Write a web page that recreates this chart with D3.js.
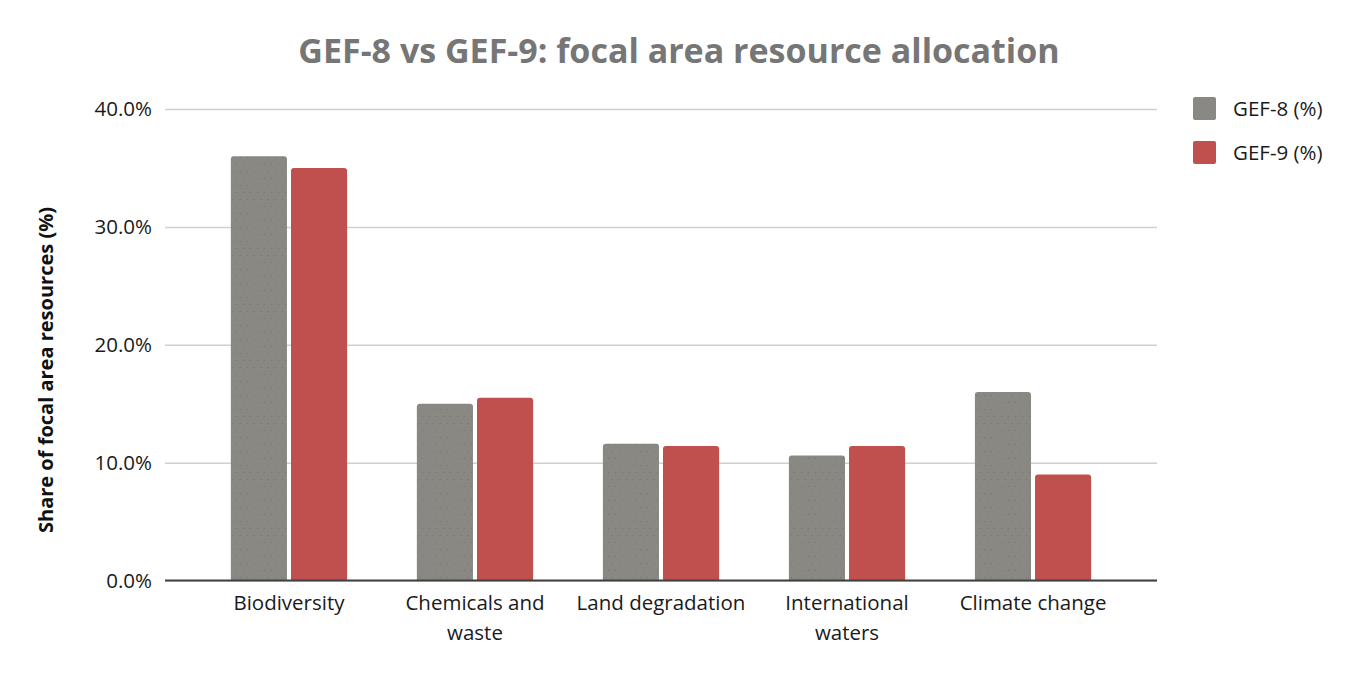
<!DOCTYPE html>
<html lang="en">

<head>
    <meta charset="UTF-8">
    <title>GEF-8 vs GEF-9</title>
    <script src="https://d3js.org/d3.v7.min.js"></script>
    <style>
        body {
            margin: 0;
            background: #fff;
        }

        text {
            font-family: "Open Sans", "Noto Sans", sans-serif;
        }
    </style>
</head>

<body>
    <svg width="1360" height="680"></svg>

    <script>
        const categories = ["Biodiversity", "Chemicals and waste", "Land degradation", "International waters", "Climate change"];
        const catLines = [["Biodiversity"], ["Chemicals and", "waste"], ["Land degradation"], ["International", "waters"], ["Climate change"]];
        const seriesNames = ["GEF-8 (%)", "GEF-9 (%)"];
        const gef8 = [36.0, 15.0, 11.6, 10.6, 16.0];
        const gef9 = [35.0, 15.5, 11.4, 11.4, 9.0];
        const yTicks = [0, 10, 20, 30, 40];

        const colors = ["#898883", "#c0504d"];

        const svg = d3.select("svg");

        const plotLeft = 165, plotRight = 1157, plotTop = 109, plotBottom = 580.5;

        const x = d3.scaleBand()
            .domain(categories)
            .range([plotLeft, plotRight])
            .paddingInner(0.375)
            .paddingOuter(0.354);

        const xs = d3.scaleBand()
            .domain(seriesNames)
            .range([0, x.bandwidth()])
            .paddingInner(4 / 60);

        const y = d3.scaleLinear().domain([0, 40]).range([plotBottom, plotTop]);

        // dotted texture for the grey bars
        const defs = svg.append("defs");
        const pat = defs.append("pattern")
            .attr("id", "dots")
            .attr("patternUnits", "userSpaceOnUse")
            .attr("width", 7).attr("height", 14);
        pat.append("rect").attr("width", 7).attr("height", 14).attr("fill", colors[0]);
        pat.append("rect").attr("x", 2).attr("y", 3).attr("width", 1).attr("height", 1).attr("fill", "#76756f");
        pat.append("rect").attr("x", 5).attr("y", 10).attr("width", 1).attr("height", 1).attr("fill", "#76756f");

        // title
        svg.append("text")
            .attr("x", 679)
            .attr("y", 63)
            .attr("text-anchor", "middle")
            .attr("font-size", "34px")
            .attr("font-weight", "bold")
            .attr("fill", "#767676")
            .text("GEF-8 vs GEF-9: focal area resource allocation");

        // gridlines + y labels
        const yAxis = svg.append("g")
            .attr("transform", `translate(${plotLeft},0)`)
            .call(d3.axisLeft(y).tickValues(yTicks).tickSize(-(plotRight - plotLeft)).tickPadding(13)
                .tickFormat(d => d.toFixed(1) + "%"));
        yAxis.select(".domain").remove();
        yAxis.selectAll(".tick line").attr("stroke", "#d0d0d0").attr("stroke-width", 1.5);
        yAxis.selectAll(".tick text")
            .attr("font-size", "20.5px")
            .attr("fill", "#1a1a1a")
            .style("font-family", "'Open Sans', sans-serif");

        // y title
        svg.append("text")
            .attr("transform", "translate(53,370) rotate(-90)")
            .attr("text-anchor", "middle")
            .attr("font-size", "20px")
            .attr("font-weight", "bold")
            .attr("fill", "#111")
            .text("Share of focal area resources (%)");

        // bars
        const rows = categories.map((c, i) => ({ cat: c, vals: [gef8[i], gef9[i]] }));
        const groups = svg.append("g").selectAll("g")
            .data(rows)
            .join("g")
            .attr("transform", d => `translate(${x(d.cat)},0)`);

        groups.selectAll("path")
            .data(d => d.vals.map((v, j) => ({ s: seriesNames[j], v: v, j: j })))
            .join("path")
            .attr("d", d => {
                const x0 = xs(d.s), w = xs.bandwidth(), y0 = y(d.v), r = 3;
                return `M${x0},${plotBottom}V${y0 + r}Q${x0},${y0} ${x0 + r},${y0}H${x0 + w - r}Q${x0 + w},${y0} ${x0 + w},${y0 + r}V${plotBottom}Z`;
            })
            .attr("fill", d => d.j === 0 ? "url(#dots)" : colors[1]);

        // baseline
        svg.append("line")
            .attr("x1", plotLeft).attr("x2", plotRight)
            .attr("y1", plotBottom).attr("y2", plotBottom)
            .attr("stroke", "#404040").attr("stroke-width", 2);

        // x labels
        const xl = svg.append("g").selectAll("text")
            .data(categories)
            .join("text")
            .attr("x", d => x(d) + x.bandwidth() / 2)
            .attr("y", 610)
            .attr("text-anchor", "middle")
            .attr("font-size", "20.5px")
            .attr("fill", "#1a1a1a");
        xl.selectAll("tspan")
            .data((d, i) => catLines[i])
            .join("tspan")
            .attr("x", function () { return this.parentNode.getAttribute("x"); })
            .attr("dy", (d, i) => i === 0 ? 0 : 30)
            .text(d => d);

        // legend
        const lg = svg.append("g").selectAll("g")
            .data(seriesNames)
            .join("g")
            .attr("transform", (d, i) => `translate(1193,${97 + i * 44})`);
        lg.append("rect")
            .attr("width", 23).attr("height", 23).attr("rx", 2)
            .attr("fill", (d, i) => colors[i]);
        lg.append("text")
            .attr("x", 40).attr("y", 19)
            .attr("font-size", "20.5px")
            .attr("fill", "#1a1a1a")
            .text(d => d);
    </script>
</body>

</html>
